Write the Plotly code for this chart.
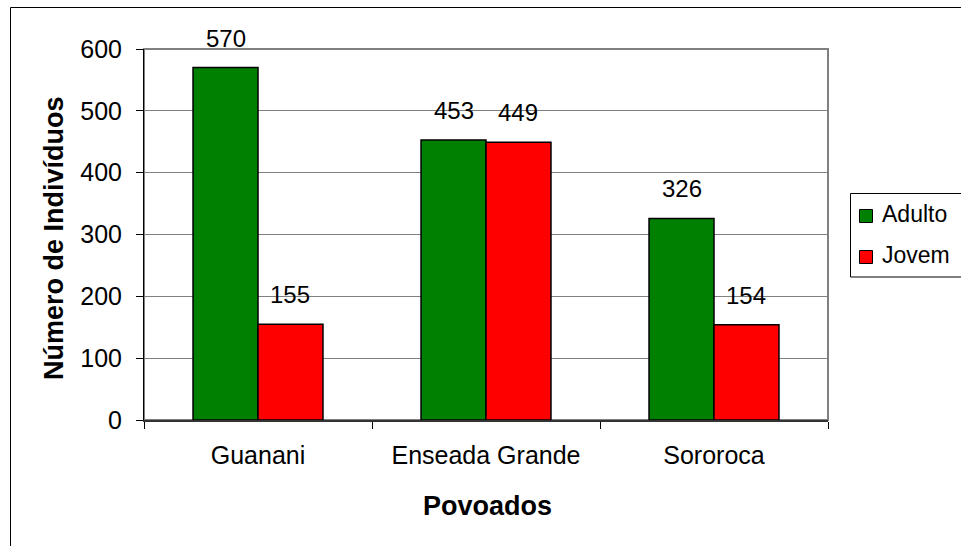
import plotly.graph_objects as go

# Povoados e número de indivíduos por classe etária
povoados = ["Guanani", "Enseada Grande", "Sororoca"]
series_names = ["Adulto", "Jovem"]
adulto = [570, 453, 326]
jovem = [155, 449, 154]
y_ticks = [0, 100, 200, 300, 400, 500, 600]

colors = ["#008000", "#FF0000"]
values = [adulto, jovem]

W, H = 961, 546
L, R, T, B = 144, 133, 49, 126
pw, ph = W - L - R, H - T - B

def px_x(x):
    return (x - L) / pw

def px_y(y):
    return (H - B - y) / ph

FONT = "Liberation Sans, Arial, sans-serif"
bargap = 0.43
bar_w = (1 - bargap) / 2

fig = go.Figure()
for name, vals, col in zip(series_names, values, colors):
    fig.add_trace(go.Bar(
        x=povoados, y=vals, name=name,
        marker=dict(color=col, line=dict(color="#000000", width=1.5)),
        showlegend=False,
    ))

annotations = []
# value labels above bars
for k, vals in enumerate(values):
    off = (k - 0.5) * bar_w
    for i, v in enumerate(vals):
        annotations.append(dict(
            x=i + off, y=v, xref="x", yref="y", text=str(v),
            showarrow=False, yanchor="bottom", yshift=14,
            font=dict(family=FONT, size=24, color="#000000"),
        ))

# axis titles
annotations.append(dict(
    x=px_x(54), y=px_y(238), xref="paper", yref="paper",
    text="<b>Número de Indivíduos</b>", textangle=-90, showarrow=False,
    xanchor="center", yanchor="middle",
    font=dict(family=FONT, size=27, color="#000000"),
))
annotations.append(dict(
    x=px_x(487), y=px_y(506), xref="paper", yref="paper",
    text="<b>Povoados</b>", showarrow=False,
    xanchor="center", yanchor="middle",
    font=dict(family=FONT, size=27, color="#000000"),
))

shapes = [
    # outer chart frame
    dict(type="rect", xref="paper", yref="paper",
         x0=px_x(10.5), x1=px_x(1000), y0=px_y(600), y1=px_y(7.5),
         line=dict(color="#000000", width=1), layer="below"),
    # plot-area border
    dict(type="rect", xref="paper", yref="paper", x0=0, x1=1, y0=0, y1=1,
         line=dict(color="#808080", width=2), layer="below"),
    # legend box
    dict(type="rect", xref="paper", yref="paper",
         x0=px_x(850.5), x1=px_x(1000), y0=px_y(277), y1=px_y(193.5),
         line=dict(color="#000000", width=1)),
]

legend_rows = [216, 257]
for name, col, yc in zip(series_names, colors, legend_rows):
    shapes.append(dict(type="rect", xref="paper", yref="paper",
                       x0=px_x(859.5), x1=px_x(872.5),
                       y0=px_y(yc + 6.5), y1=px_y(yc - 6.5),
                       fillcolor=col, line=dict(color="#000000", width=1)))
    annotations.append(dict(
        x=px_x(880), y=px_y(yc - 2), xref="paper", yref="paper",
        text=name, showarrow=False, xanchor="left", yanchor="middle",
        font=dict(family=FONT, size=23, color="#000000"),
    ))

fig.update_layout(
    width=W, height=H,
    margin=dict(l=L, r=R, t=T, b=B, pad=0),
    paper_bgcolor="#FFFFFF", plot_bgcolor="#FFFFFF",
    barmode="group", bargap=bargap, bargroupgap=0,
    font=dict(family=FONT, size=25, color="#000000"),
    annotations=annotations, shapes=shapes,
    showlegend=False,
)
fig.update_xaxes(
    type="category", tickson="boundaries",
    ticks="outside", ticklen=7, tickwidth=1, tickcolor="#000000",
    showline=True, linecolor="#333333", linewidth=2,
    showgrid=False, automargin=False, ticklabelstandoff=12,
    tickfont=dict(family=FONT, size=25, color="#000000"),
)
fig.update_yaxes(
    range=[0, 600], tickvals=y_ticks,
    ticks="outside", ticklen=7, tickwidth=1, tickcolor="#000000",
    showline=True, linecolor="#000000", linewidth=1,
    showgrid=True, gridcolor="#808080", gridwidth=1,
    zeroline=False, automargin=False, ticklabelstandoff=9,
    tickfont=dict(family=FONT, size=25, color="#000000"),
)

fig.write_html("out.html")
